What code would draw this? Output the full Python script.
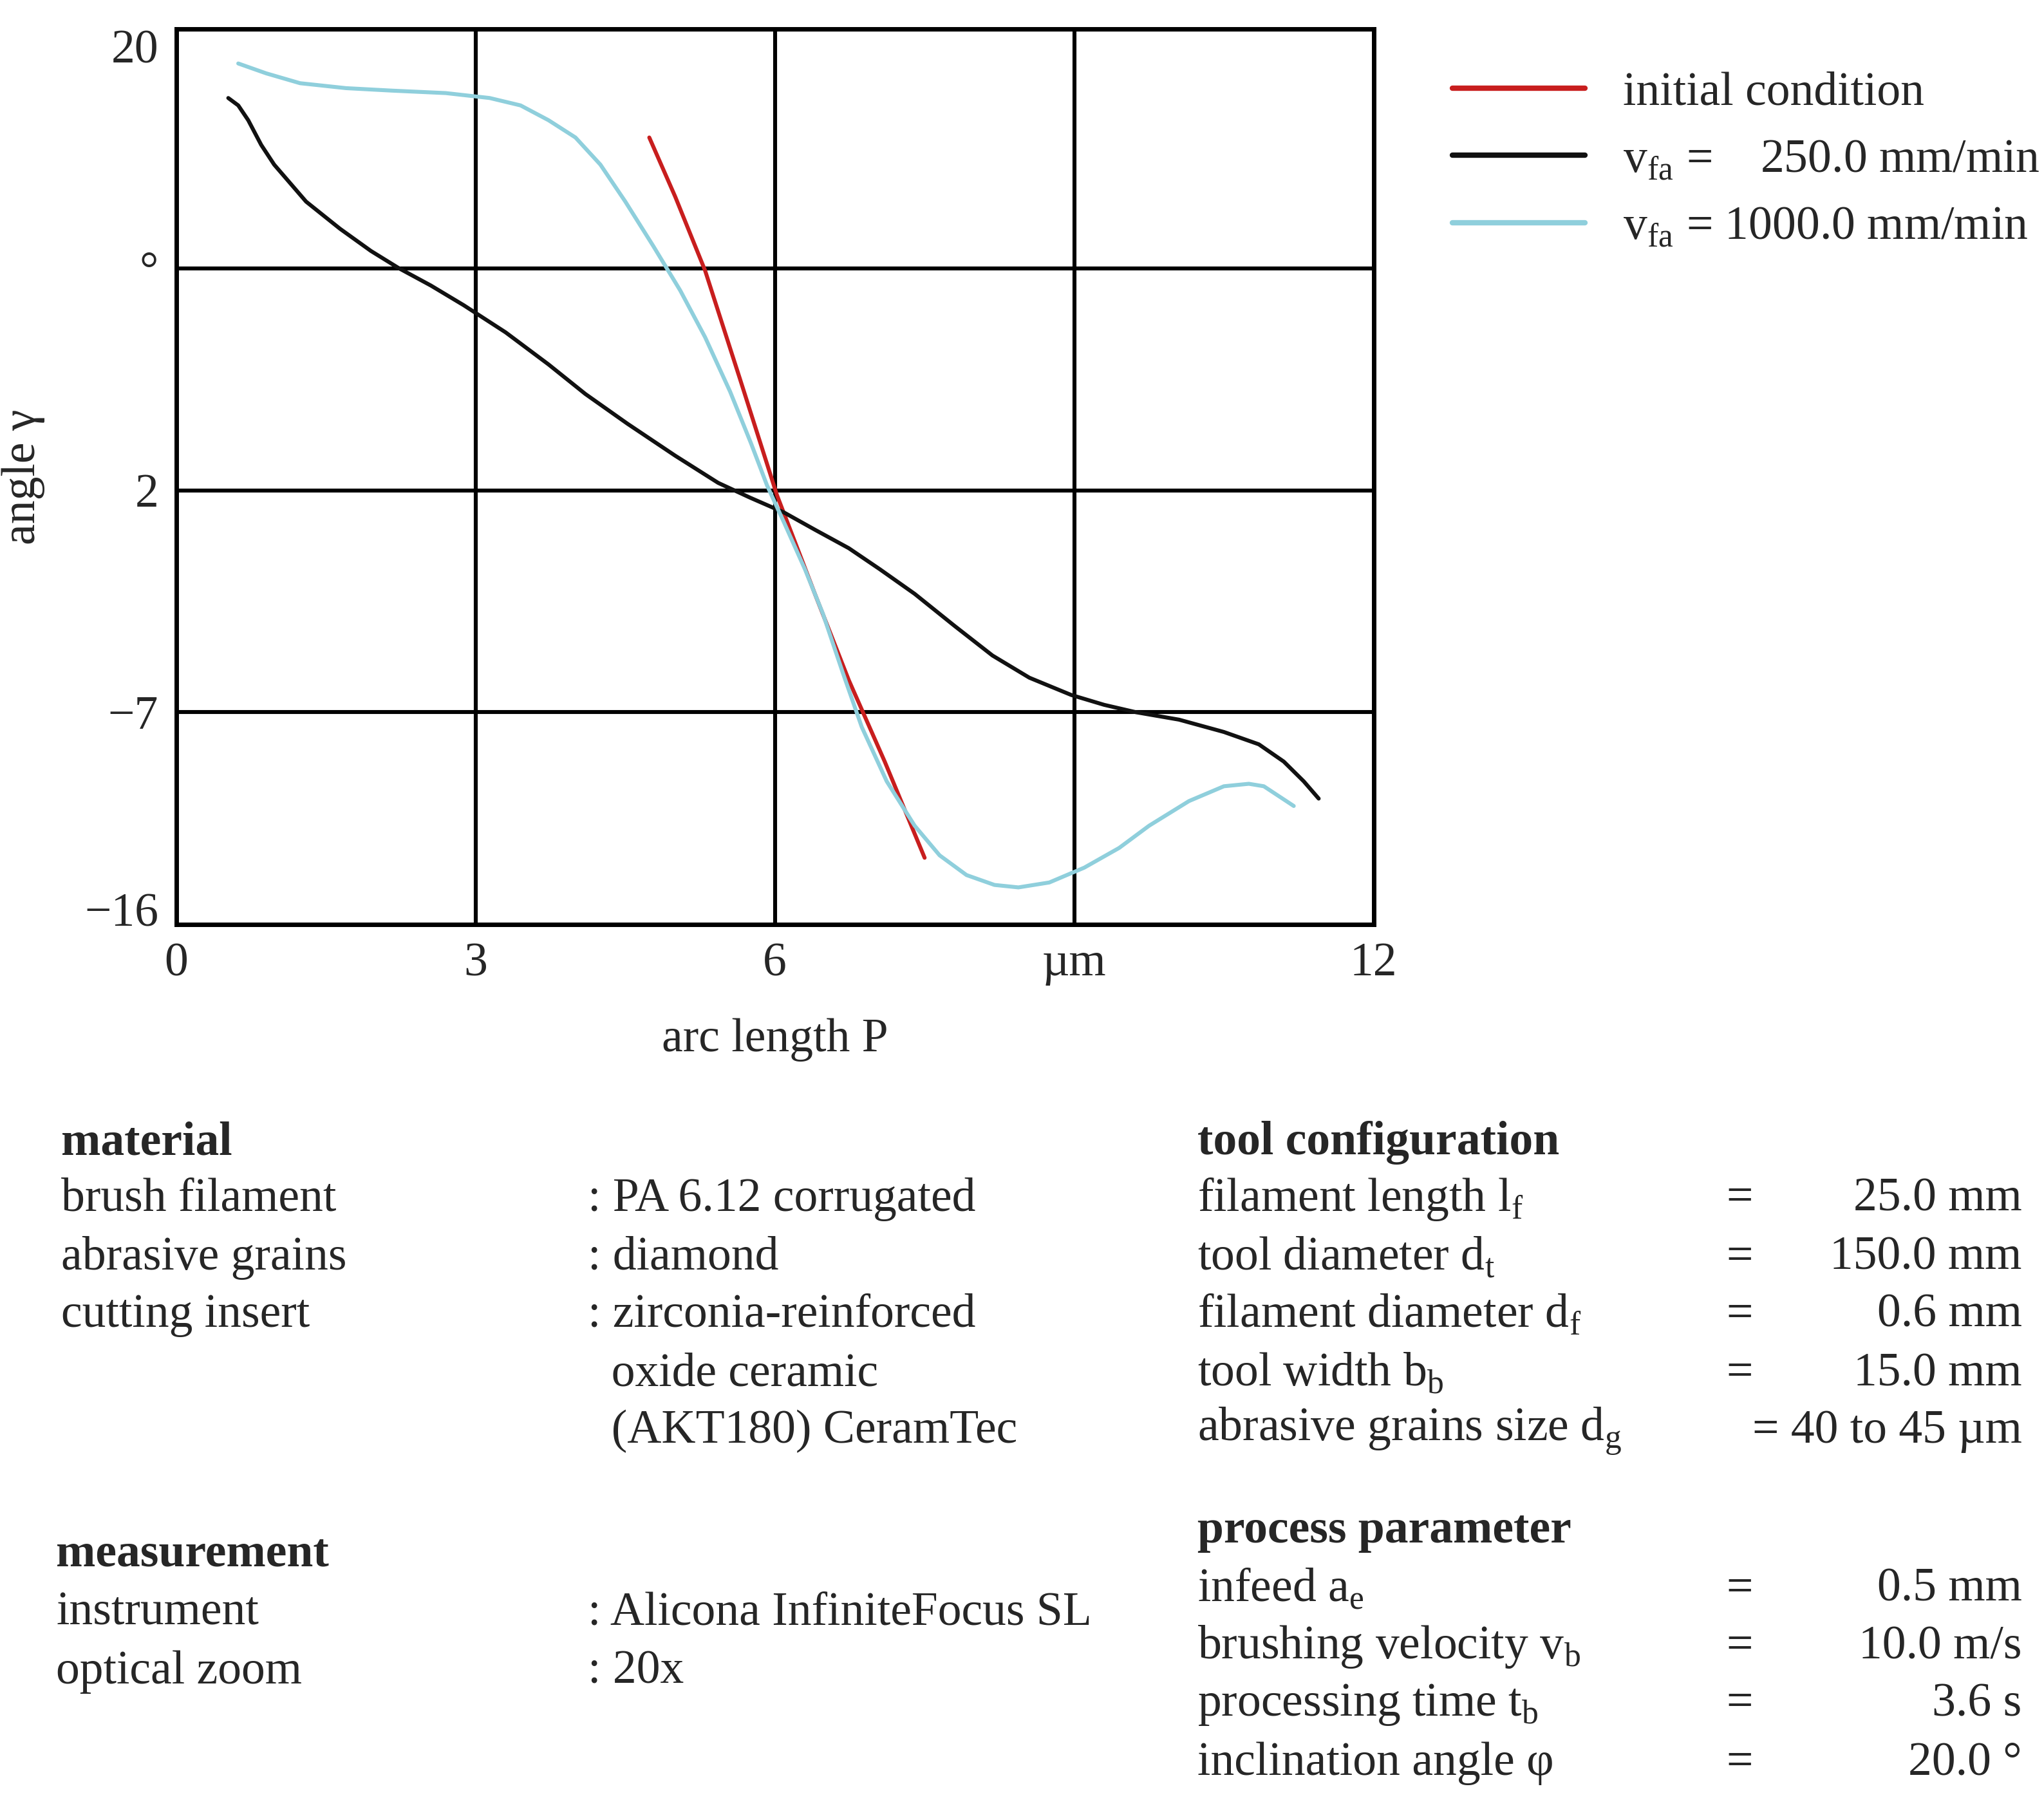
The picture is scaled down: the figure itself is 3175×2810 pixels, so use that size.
import numpy as np, pandas as pd, seaborn as sns, matplotlib
matplotlib.use("Agg")
import matplotlib.pyplot as plt

black_x = [0.52,0.62,0.72,0.85,0.98,1.3,1.64,1.95,2.23,2.55,2.88,3.3,3.73,4.1,4.52,5.0,5.43,5.75,6.09,6.4,6.74,7.05,7.4,7.8,8.18,8.55,8.97,9.3,9.62,10.05,10.5,10.85,11.1,11.3,11.45]
black_y = [17.9,17.6,17.0,16.0,15.2,13.7,12.6,11.7,11.0,10.3,9.5,8.4,7.1,5.9,4.7,3.4,2.3,1.7,1.1,0.4,-0.35,-1.2,-2.2,-3.5,-4.7,-5.6,-6.3,-6.7,-7.0,-7.3,-7.8,-8.3,-9.0,-9.8,-10.5]
cyan_x = [0.62,0.9,1.24,1.7,2.16,2.7,3.14,3.45,3.73,4.0,4.25,4.5,4.78,5.05,5.3,5.55,5.76,5.92,6.09,6.3,6.48,6.68,6.87,7.12,7.4,7.65,7.92,8.2,8.44,8.75,9.1,9.45,9.75,10.15,10.5,10.75,10.9,11.05,11.2]
cyan_y = [19.3,18.9,18.5,18.3,18.2,18.1,17.9,17.6,17.0,16.3,15.2,13.7,11.9,10.1,8.2,6.0,3.9,2.2,0.7,-1.2,-3.0,-5.4,-7.6,-9.8,-11.6,-12.8,-13.6,-14.0,-14.1,-13.9,-13.3,-12.5,-11.6,-10.6,-10.0,-9.9,-10.0,-10.4,-10.8]
red_x = [4.74,5.0,5.3,5.65,6.02,6.4,6.74,7.1,7.5]
red_y = [16.3,13.9,10.9,6.5,1.8,-2.2,-5.7,-9.0,-12.9]
xticks = [0,3,6,9,12]; xticklabels = ["0","3","6","µm","12"]
yticks = [20,11,2,-7,-15.0]; yticklabels = ["20","°","2","−7","−16"]
labels = ["initial condition", r"v$_{\rm fa}$ =    250.0 mm/min", r"v$_{\rm fa}$ = 1000.0 mm/min"]

sns.set_theme(style="white")
plt.rcParams['font.family'] = ['Liberation Serif', 'DejaVu Serif']
plt.rcParams['mathtext.fontset'] = 'custom'
plt.rcParams['mathtext.rm'] = 'Liberation Serif'
FS = 26.5

df = pd.concat([
    pd.DataFrame({"x": red_x, "y": red_y, "s": labels[0]}),
    pd.DataFrame({"x": black_x, "y": black_y, "s": labels[1]}),
    pd.DataFrame({"x": cyan_x, "y": cyan_y, "s": labels[2]}),
])
fig = plt.figure(figsize=(15.875, 14.05), dpi=200)
ax = fig.add_axes([0.0863, 0.489, 0.5857, 0.495])
for v in [3,6,9]:
    ax.axvline(v, color="black", lw=2.2, zorder=1)
for v in [11,2,-7]:
    ax.axhline(v, color="black", lw=2.2, zorder=1)
sns.lineplot(data=df, x="x", y="y", hue="s", sort=False, estimator=None,
             palette=["#c81e1e", "#111111", "#8fcfdc"], lw=2.2, ax=ax, zorder=3)
ax.set_xlim(0, 12); ax.set_ylim(-15.6, 20.7)
ax.set_xticks(xticks, xticklabels, fontsize=FS)
ax.set_yticks(yticks, yticklabels, fontsize=FS)
ax.tick_params(length=0, pad=10)
for s in ax.spines.values():
    s.set_color("black"); s.set_linewidth(2.5)
ax.set_xlabel("arc length P", fontsize=FS, labelpad=18)
ax.set_ylabel("angle γ", fontsize=FS, labelpad=22)
ax.legend(loc="upper left", bbox_to_anchor=(1.03, 1.0), frameon=False, fontsize=FS,
          handlelength=2.8, labelspacing=0.5, title=None)
leg = ax.get_legend()
for l in leg.get_lines(): l.set_linewidth(3)

W, H = 1565, 1385
def t(x, y, s, **kw):
    fig.text(x / W, 1 - y / H, s, fontsize=FS, va="center", **kw)

t(47, 875, "material", weight="bold")
left = [("brush filament", ": PA 6.12 corrugated", 918), ("abrasive grains", ": diamond", 963),
        ("cutting insert", ": zirconia-reinforced", 1007), ("", "  oxide ceramic", 1052),
        ("", "  (AKT180) CeramTec", 1096)]
for a, b, y in left:
    t(47, y, a); t(450, y, b)
t(43, 1190, "measurement", weight="bold")
for a, b, y in [("instrument", ": Alicona InfiniteFocus SL", 1235), ("optical zoom", ": 20x", 1280)]:
    t(43, y, a); t(450, y, b)

t(917, 875, "tool configuration", weight="bold")
right = [(r"filament length l$_{\rm f}$", "=", "25.0 mm", 918),
         (r"tool diameter d$_{\rm t}$", "=", "150.0 mm", 963),
         (r"filament diameter d$_{\rm f}$", "=", "0.6 mm", 1007),
         (r"tool width b$_{\rm b}$", "=", "15.0 mm", 1052),
         (r"abrasive grains size d$_{\rm g}$", "", "= 40 to 45 µm", 1096),
         (r"infeed a$_{\rm e}$", "=", "0.5 mm", 1217),
         (r"brushing velocity v$_{\rm b}$", "=", "10.0 m/s", 1261),
         (r"processing time t$_{\rm b}$", "=", "3.6 s", 1305),
         (r"inclination angle φ", "=", "20.0 °", 1350)]
for a, e, v, y in right:
    t(917, y, a); t(1332, y, e, ha="center"); t(1548, y, v, ha="right")
t(917, 1172, "process parameter", weight="bold")

fig.savefig("out.png", dpi=200)
